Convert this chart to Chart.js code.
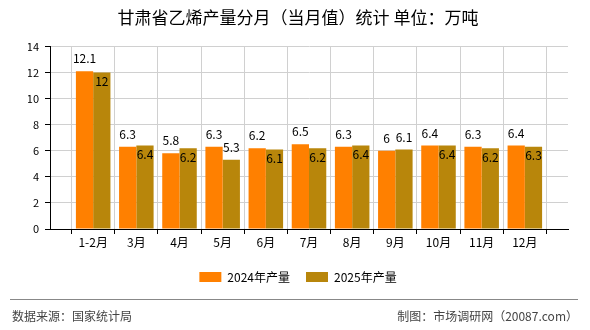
<!DOCTYPE html>
<html lang="zh">
<head>
    <meta charset="UTF-8">
    <title>甘肃省乙烯产量分月（当月值）统计</title>
    <script src="https://cdn.jsdelivr.net/npm/chart.js"></script>
    <style>
        body { margin: 0; background: #fff; }
        #wrap { position: relative; width: 590px; height: 330px; font-family: "Noto Sans CJK SC", sans-serif; }
        #wrap canvas { position: absolute; left: 0; top: 0; }
        .rule { position: absolute; left: 10px; right: 12px; top: 299px; border-top: 1px solid #888; }
        .src { position: absolute; top: 307px; font-size: 12px; line-height: 18px; color: #444; }
    </style>
</head>
<body>
<div id="wrap">
    <canvas id="chart" width="590" height="330"></canvas>
    <div class="rule"></div>
    <div class="src" style="left:12px">数据来源：国家统计局</div>
    <div class="src" style="right:12px">制图：市场调研网（20087.com）</div>
</div>

<script>
    // data
    const months = ['1-2月', '3月', '4月', '5月', '6月', '7月', '8月', '9月', '10月', '11月', '12月'];
    const output2024 = [12.1, 6.3, 5.8, 6.3, 6.2, 6.5, 6.3, 6, 6.4, 6.3, 6.4];
    const output2025 = [12, 6.4, 6.2, 5.3, 6.1, 6.2, 6.4, 6.1, 6.4, 6.2, 6.3];
    const yMax = 14;
    const yStep = 2;

    const font = '"Noto Sans CJK SC", sans-serif';

    // the axis has an empty slot before the first month and after the last one
    const labels = [''].concat(months, ['']);
    const pad = arr => [null].concat(arr, [null]);

    // value labels: 2024 above its bar, 2025 above too unless it hits the 2024 label, then inside
    const barLabels = {
        id: 'barLabels',
        afterDatasetsDraw(chart) {
            const ctx = chart.ctx;
            const a = chart.getDatasetMeta(0).data;
            const b = chart.getDatasetMeta(1).data;
            const v0 = chart.data.datasets[0].data;
            const v1 = chart.data.datasets[1].data;
            ctx.save();
            ctx.font = '12px ' + font;
            ctx.fillStyle = '#000';
            ctx.textAlign = 'center';
            ctx.textBaseline = 'middle';
            a.forEach((barA, i) => {
                if (v0[i] == null) return;
                const barB = b[i];
                const tA = String(v0[i]);
                const tB = String(v1[i]);
                const wA = ctx.measureText(tA).width;
                const wB = ctx.measureText(tB).width;
                const yA = barA.y - 12.5;
                let yB = barB.y - 12.5;
                const hit = (barA.x + wA / 2 + 2 > barB.x - wB / 2) && Math.abs(yA - yB) < 12;
                if (hit) yB = barB.y + 9;
                ctx.fillText(tA, barA.x, yA);
                ctx.fillText(tB, barB.x, yB);
            });
            ctx.restore();
        }
    };

    const ctx = document.getElementById('chart').getContext('2d');
    new Chart(ctx, {
        type: 'bar',
        data: {
            labels: labels,
            datasets: [
                {
                    label: '2024年产量',
                    data: pad(output2024),
                    backgroundColor: '#FF8000',
                    categoryPercentage: 0.8,
                    barPercentage: 1.0
                },
                {
                    label: '2025年产量',
                    data: pad(output2025),
                    backgroundColor: '#B8860B',
                    categoryPercentage: 0.8,
                    barPercentage: 1.0
                }
            ]
        },
        options: {
            responsive: false,
            devicePixelRatio: 1,
            animation: false,
            layout: { padding: { left: 28, right: 22, top: 0, bottom: 37 } },
            plugins: {
                title: {
                    display: true,
                    text: '甘肃省乙烯产量分月（当月值）统计 单位：万吨',
                    color: '#000',
                    font: { family: font, size: 17, weight: 'normal' },
                    padding: { top: 7, bottom: 19 }
                },
                legend: {
                    position: 'bottom',
                    labels: {
                        boxWidth: 22,
                        boxHeight: 10,
                        padding: 16,
                        color: '#000',
                        font: { family: font, size: 12 }
                    }
                },
                tooltip: { enabled: false }
            },
            scales: {
                x: {
                    offset: false,
                    grid: { color: '#d0d0d0', tickColor: '#000', tickLength: 5 },
                    border: { color: '#000' },
                    ticks: {
                        color: '#000',
                        font: { family: font, size: 12 },
                        padding: 1,
                        autoSkip: false,
                        maxRotation: 0
                    },
                    afterFit(s) { s.height = 26; }
                },
                y: {
                    min: 0,
                    max: yMax,
                    grid: { color: '#d0d0d0', tickColor: '#000', tickLength: 5 },
                    border: { color: '#000' },
                    ticks: {
                        stepSize: yStep,
                        color: '#000',
                        font: { family: font, size: 11 },
                        padding: 6
                    },
                    afterFit(s) { s.width = 22; }
                }
            }
        },
        plugins: [barLabels]
    });
</script>
</body>
</html>
